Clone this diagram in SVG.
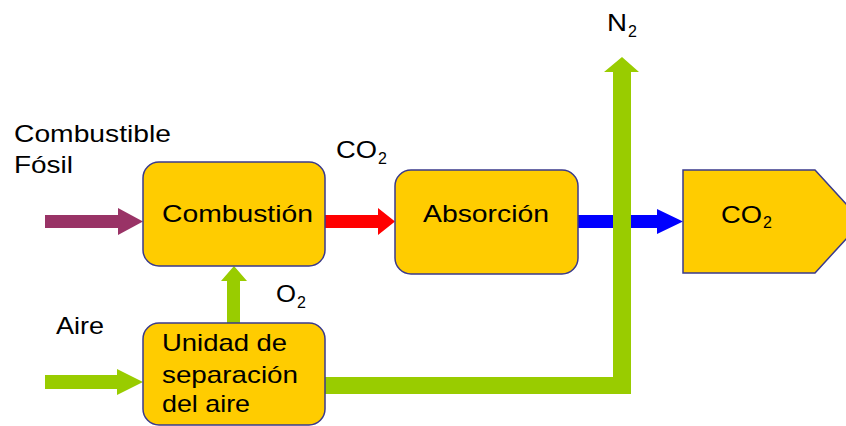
<svg xmlns="http://www.w3.org/2000/svg" width="846" height="426" viewBox="0 0 846 426">
<style>
.box{fill:#FFCC00;stroke:#3A3A8C;stroke-width:1.5}
.t{font-family:"Liberation Sans",Arial,sans-serif;font-size:24px;fill:#000}
.s{font-family:"Liberation Sans",Arial,sans-serif;font-size:16px;fill:#000}
</style>
<rect width="846" height="426" fill="#fff"/>
<g id="connectors">
<polygon id="fuel-arrow" fill="#993366" points="45,215 118,215 118,208 143,221.5 118,235 118,228 45,228"/>
<polygon id="co2-arrow" fill="#FF0000" points="325,215 378,215 378,208 395,221.5 378,235 378,228 325,228"/>
<polygon id="blue-arrow" fill="#0000FF" points="578,215 657,215 657,209 683,221.5 657,234 657,228 578,228"/>
<polygon id="air-arrow" fill="#99CC00" points="45,375 117,375 117,369 143,382 117,395 117,389 45,389"/>
<polygon id="o2-arrow" fill="#99CC00" points="227,323 227,281 221,281 234,266 247,281 240,281 240,323"/>
<polygon id="n2-arrow" fill="#99CC00" points="325,377 613,377 613,72 604,72 622,57 639,72 631,72 631,394 325,394"/>
</g>
<g id="combustion">
<rect class="box" x="143" y="162" width="182" height="104" rx="16"/>
<text class="t" x="162" y="222" textLength="151" lengthAdjust="spacingAndGlyphs">Combustión</text>
</g>
<g id="absorcion">
<rect class="box" x="395" y="170" width="183" height="104" rx="16"/>
<text class="t" x="423" y="222" textLength="126" lengthAdjust="spacingAndGlyphs">Absorción</text>
</g>
<g id="co2-out">
<polygon class="box" points="683,170 815,170 862,221.5 815,273 683,273"/>
<text class="t" x="721" y="223" textLength="41" lengthAdjust="spacingAndGlyphs">CO</text>
<text class="s" x="763" y="228">2</text>
</g>
<g id="asu">
<rect class="box" x="143" y="323" width="182" height="102" rx="16"/>
<text class="t" x="162" y="351" textLength="125" lengthAdjust="spacingAndGlyphs">Unidad de</text>
<text class="t" x="162" y="383" textLength="136" lengthAdjust="spacingAndGlyphs">separación</text>
<text class="t" x="162" y="412" textLength="88" lengthAdjust="spacingAndGlyphs">del aire</text>
</g>
<g id="labels">
<text class="t" x="14" y="142" textLength="157" lengthAdjust="spacingAndGlyphs">Combustible</text>
<text class="t" x="14" y="173" textLength="59" lengthAdjust="spacingAndGlyphs">Fósil</text>
<text class="t" x="336" y="158" textLength="41" lengthAdjust="spacingAndGlyphs">CO</text>
<text class="s" x="378" y="164">2</text>
<text class="t" x="607" y="31" textLength="20" lengthAdjust="spacingAndGlyphs">N</text>
<text class="s" x="628" y="37">2</text>
<text class="t" x="276" y="302" textLength="20" lengthAdjust="spacingAndGlyphs">O</text>
<text class="s" x="297" y="308">2</text>
<text class="t" x="56" y="334" textLength="48" lengthAdjust="spacingAndGlyphs">Aire</text>
</g>
</svg>
